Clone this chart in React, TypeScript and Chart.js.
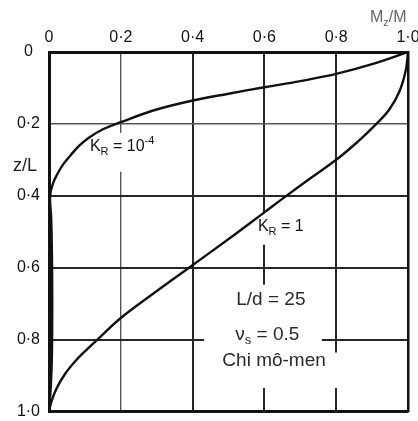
import { useEffect, useRef } from 'react';
import { Chart, registerables } from 'chart.js';

Chart.register(...registerables);

// Grid / tick positions shared by both axes (M_z/M across, z/L down)
const ratioTicks = [0, 0.2, 0.4, 0.6, 0.8, 1.0];

// Moment ratio M_z/M along the pile for K_R = 10^-4 (flexible pile)
const flexibleMz = [1.0, 0.9, 0.8, 0.7, 0.6, 0.5, 0.4, 0.3, 0.2, 0.15, 0.112, 0.085, 0.062, 0.04, 0.024, 0.011, 0.003, 0.006, 0.008, 0.009, 0.008, 0.005, 0.0];
const flexibleZ = [0.0, 0.034, 0.061, 0.081, 0.098, 0.116, 0.135, 0.16, 0.195, 0.215, 0.238, 0.26, 0.285, 0.312, 0.338, 0.366, 0.4, 0.46, 0.55, 0.7, 0.85, 0.93, 1.0];

// Moment ratio M_z/M along the pile for K_R = 1 (stiff pile)
const stiffMz = [1.0, 0.994, 0.976, 0.948, 0.912, 0.865, 0.81, 0.73, 0.648, 0.6, 0.51, 0.39, 0.288, 0.2, 0.135, 0.105, 0.075, 0.045, 0.02, 0.006, 0.0];
const stiffZ = [0.0, 0.05, 0.11, 0.16, 0.2, 0.245, 0.292, 0.35, 0.41, 0.446, 0.513, 0.6, 0.674, 0.74, 0.8, 0.828, 0.858, 0.895, 0.938, 0.975, 1.0];

const FONT = '"Liberation Sans", Arial, Helvetica, sans-serif';
const INK = '#111111';

type Seg = { t: string; sub?: boolean; sup?: boolean };

// Annotation texts, placed in data coordinates (x = M_z/M, z/L)
const notes: { segs: Seg[]; x: number; z: number; size: number; align: 'left' | 'center'; color: string }[] = [
  { segs: [{ t: 'K' }, { t: 'R', sub: true }, { t: ' = 10' }, { t: '-4', sup: true }], x: 0.114, z: 0.264, size: 16, align: 'left', color: INK },
  { segs: [{ t: 'K' }, { t: 'R', sub: true }, { t: ' = 1' }], x: 0.582, z: 0.487, size: 16, align: 'left', color: INK },
  { segs: [{ t: 'L/d = 25' }], x: 0.618, z: 0.69, size: 19, align: 'center', color: '#2a2a2a' },
  { segs: [{ t: 'ν' }, { t: 's', sub: true }, { t: ' = 0.5' }], x: 0.608, z: 0.787, size: 19, align: 'center', color: '#2a2a2a' },
  { segs: [{ t: 'Chi mô-men' }], x: 0.627, z: 0.86, size: 19, align: 'center', color: '#2a2a2a' },
];

// White panels that the grid stops at, behind the annotation texts
const clearPanels = [
  { x0: 0.1, x1: 0.3, z0: 0.225, z1: 0.333 },
  { x0: 0.56, x1: 0.74, z0: 0.447, z1: 0.536 },
  { x0: 0.432, x1: 0.76, z0: 0.647, z1: 0.925 },
  { x0: 0.432, x1: 0.825, z0: 0.836, z1: 0.935 },
];

function drawRich(ctx: CanvasRenderingContext2D, segs: Seg[], x: number, y: number, size: number, align: 'left' | 'center', color: string) {
  const big = `${size}px ${FONT}`;
  const small = `${Math.round(size * 0.7)}px ${FONT}`;
  ctx.save();
  ctx.fillStyle = color;
  ctx.textBaseline = 'middle';
  ctx.textAlign = 'left';
  let total = 0;
  for (const s of segs) {
    ctx.font = s.sub || s.sup ? small : big;
    total += ctx.measureText(s.t).width;
  }
  let cx = align === 'center' ? x - total / 2 : x;
  for (const s of segs) {
    ctx.font = s.sub || s.sup ? small : big;
    const dy = s.sub ? size * 0.3 : s.sup ? -size * 0.35 : 0;
    ctx.fillText(s.t, cx, y + dy);
    cx += ctx.measureText(s.t).width;
  }
  ctx.restore();
}

const fmt = (v: number) => (v === 0 ? '0' : v.toFixed(1).replace('.', '·'));

const notesPlugin = {
  id: 'pileNotes',
  beforeDatasetsDraw(chart: any) {
    const { ctx, scales } = chart;
    const xs = scales.x;
    const ys = scales.y;
    ctx.save();
    ctx.fillStyle = '#ffffff';
    for (const p of clearPanels) {
      const a = xs.getPixelForValue(p.x0);
      const b = xs.getPixelForValue(p.x1);
      const c = ys.getPixelForValue(p.z0);
      const d = ys.getPixelForValue(p.z1);
      ctx.fillRect(a, c, b - a, d - c);
    }
    ctx.restore();
  },
  afterDatasetsDraw(chart: any) {
    const { ctx, scales } = chart;
    const xs = scales.x;
    const ys = scales.y;
    for (const n of notes) {
      drawRich(ctx, n.segs, xs.getPixelForValue(n.x), ys.getPixelForValue(n.z), n.size, n.align, n.color);
    }
  },
  afterDraw(chart: any) {
    const { ctx, scales } = chart;
    const xs = scales.x;
    const ys = scales.y;
    // axis names
    drawRich(ctx, [{ t: 'z/L' }], ys.left + 25, ys.getPixelForValue(0.318), 18, 'center', '#222');
    drawRich(ctx, [{ t: 'M' }, { t: 'z', sub: true }, { t: '/M' }], xs.getPixelForValue(0.945), xs.top + 18, 16, 'center', '#666');
  },
};

const gridWidth = (ctx: any) => (ctx.tick && Math.abs(ctx.tick.value - 0.2) < 1e-6 ? 1.4 : 2);
const gridColor = (ctx: any) => (ctx.tick && Math.abs(ctx.tick.value - 0.2) < 1e-6 ? '#555555' : '#262626');

export default function App() {
  const ref = useRef<HTMLCanvasElement | null>(null);

  useEffect(() => {
    if (!ref.current) return;
    const toPoints = (xs: number[], zs: number[]) => xs.map((v, i) => ({ x: v, y: zs[i] }));
    const tickFont = { family: FONT, size: 16 };
    const chart = new Chart(ref.current, {
      type: 'line',
      data: {
        datasets: [
          {
            label: 'K_R = 10^-4',
            data: toPoints(flexibleMz, flexibleZ),
            borderColor: INK,
            borderWidth: 2.4,
            pointRadius: 0,
            tension: 0.4,
            fill: false,
            xAxisID: 'x',
            yAxisID: 'y',
          },
          {
            label: 'K_R = 1',
            data: toPoints(stiffMz, stiffZ),
            borderColor: INK,
            borderWidth: 2.4,
            pointRadius: 0,
            tension: 0.4,
            fill: false,
            xAxisID: 'x',
            yAxisID: 'y',
          },
        ],
      },
      options: {
        animation: false,
        responsive: false,
        devicePixelRatio: 1,
        parsing: false,
        layout: { padding: 0 },
        plugins: { legend: { display: false }, tooltip: { enabled: false } },
        scales: {
          x: {
            type: 'linear',
            position: 'top',
            min: 0,
            max: 1,
            afterBuildTicks: (s: any) => {
              s.ticks = ratioTicks.map((v) => ({ value: v }));
            },
            afterFit: (s: any) => {
              s.height = 52;
              s.paddingLeft = 0;
              s.paddingRight = 0;
            },
            ticks: { callback: (v: any) => fmt(Number(v)), font: tickFont, color: '#111', padding: 5, maxRotation: 0, autoSkip: false },
            grid: { color: gridColor, lineWidth: gridWidth, drawTicks: false },
            border: { display: true, color: '#111', width: 3 },
          },
          y: {
            type: 'linear',
            position: 'left',
            reverse: true,
            min: 0,
            max: 1,
            afterBuildTicks: (s: any) => {
              s.ticks = ratioTicks.map((v) => ({ value: v }));
            },
            afterFit: (s: any) => {
              s.width = 49;
              s.paddingTop = 0;
              s.paddingBottom = 0;
            },
            ticks: { callback: (v: any) => fmt(Number(v)), font: tickFont, color: '#111', padding: 9, crossAlign: 'center', autoSkip: false },
            grid: { color: gridColor, lineWidth: gridWidth, drawTicks: false },
            border: { display: true, color: '#111', width: 3 },
          },
          x2: {
            type: 'linear',
            position: 'bottom',
            min: 0,
            max: 1,
            ticks: { display: false },
            grid: { display: false, drawTicks: false },
            border: { display: true, color: '#111', width: 2.5 },
            afterFit: (s: any) => {
              s.height = 9.5;
              s.paddingLeft = 0;
              s.paddingRight = 0;
            },
          },
          y2: {
            type: 'linear',
            position: 'right',
            min: 0,
            max: 1,
            ticks: { display: false },
            grid: { display: false, drawTicks: false },
            border: { display: true, color: '#111', width: 2.5 },
            afterFit: (s: any) => {
              s.width = 10;
              s.paddingTop = 0;
              s.paddingBottom = 0;
            },
          },
        },
      },
      plugins: [notesPlugin],
    } as any);
    return () => chart.destroy();
  }, []);

  return (
    <div style={{ position: 'absolute', left: 0, top: 0, width: 418, height: 421, background: '#fff' }}>
      <canvas ref={ref} width={418} height={421} style={{ display: 'block', width: 418, height: 421 }} />
    </div>
  );
}
